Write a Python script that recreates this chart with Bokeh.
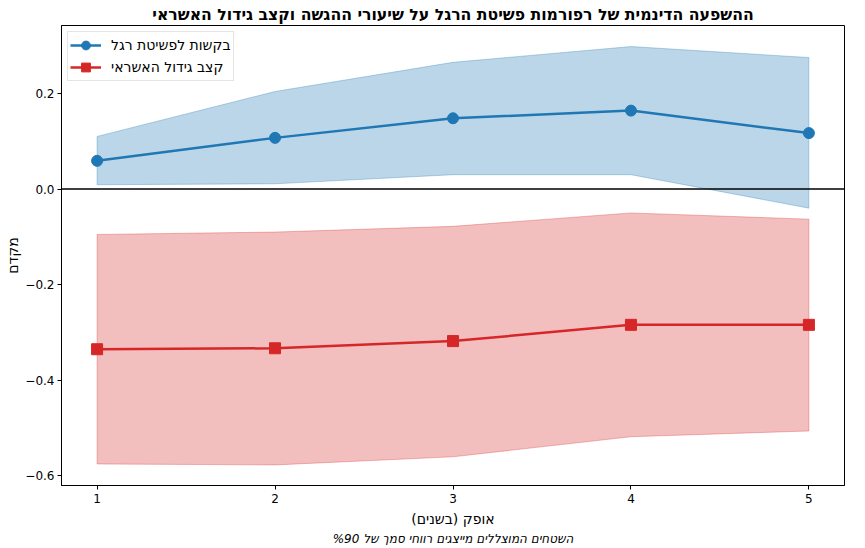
import numpy as np
from bokeh.plotting import figure
from bokeh.models import Range1d, FixedTicker, Span, Title
from bokeh.embed import file_html
from bokeh.resources import INLINE

# ---------------- data ----------------
horizons = [1, 2, 3, 4, 5]

bankruptcy_coef = [0.059, 0.107, 0.148, 0.164, 0.117]
bankruptcy_lo = [0.009, 0.011, 0.030, 0.030, -0.040]
bankruptcy_hi = [0.110, 0.204, 0.265, 0.298, 0.275]

credit_coef = [-0.335, -0.333, -0.318, -0.284, -0.284]
credit_lo = [-0.575, -0.577, -0.560, -0.518, -0.506]
credit_hi = [-0.095, -0.090, -0.078, -0.050, -0.063]

y_ticks = [-0.6, -0.4, -0.2, 0.0, 0.2]
y_tick_labels = ["\u22120.6", "\u22120.4", "\u22120.2", "0.0", "0.2"]
x_ticks = [1, 2, 3, 4, 5]

title_text = "ההשפעה הדינמית של רפורמות פשיטת הרגל על שיעורי ההגשה וקצב גידול האשראי"
label_bankruptcy = "בקשות לפשיטת רגל"
label_credit = "קצב גידול האשראי"
x_label = "אופק (בשנים)"
y_label = "מקדם"
footnote = "השטחים המוצללים מייצגים רווחי סמך של %90"

BLUE = "#1f77b4"
RED = "#d62728"
FONT = "DejaVu Sans"
RLM = "\u200f"


def rtl(s):
    return RLM + s + RLM


p = figure(width=865, height=548, output_backend="svg", toolbar_location=None,
           x_range=Range1d(0.8, 5.2), y_range=Range1d(-0.62, 0.342),
           min_border_left=61, min_border_right=21, min_border_top=24,
           min_border_bottom=63)

p.title.text = rtl(title_text)
p.title.align = "center"
p.title.text_font = FONT
p.title.text_font_size = "15.7px"
p.title.text_font_style = "bold"
p.title.text_color = "black"
p.title.standoff = 4

# bands
bx = horizons + horizons[::-1]
p.patch(bx, bankruptcy_hi + bankruptcy_lo[::-1], fill_color=BLUE, fill_alpha=0.3,
        line_color=BLUE, line_alpha=0.3, line_width=1)
p.line(horizons, bankruptcy_coef, line_color=BLUE, line_width=2.5,
       legend_label=rtl(label_bankruptcy))
p.scatter(horizons, bankruptcy_coef, marker="circle", size=11, fill_color=BLUE,
          line_color=BLUE, legend_label=rtl(label_bankruptcy))

p.patch(bx, credit_hi + credit_lo[::-1], fill_color=RED, fill_alpha=0.3,
        line_color=RED, line_alpha=0.3, line_width=1)
p.line(horizons, credit_coef, line_color=RED, line_width=2.5,
       legend_label=rtl(label_credit))
p.scatter(horizons, credit_coef, marker="square", size=11, fill_color=RED,
          line_color=RED, legend_label=rtl(label_credit))

p.add_layout(Span(location=0, dimension="width", line_color="black", line_width=1.5))

# axes
p.grid.visible = False
p.outline_line_color = "black"
p.outline_line_width = 1
for ax in (p.xaxis[0], p.yaxis[0]):
    ax.axis_line_color = "black"
    ax.major_tick_line_color = "black"
    ax.minor_tick_line_color = None
    ax.major_tick_out = 4
    ax.major_tick_in = 0
    ax.major_label_text_font = FONT
    ax.major_label_text_font_size = "12px"
    ax.major_label_text_color = "black"
    ax.axis_label_text_font = FONT
    ax.axis_label_text_font_size = "14px"
    ax.axis_label_text_font_style = "normal"
    ax.axis_label_text_color = "black"

p.xaxis[0].ticker = FixedTicker(ticks=x_ticks)
p.xaxis[0].axis_label = rtl(x_label)
p.xaxis[0].major_label_standoff = 4
p.xaxis[0].axis_label_standoff = 5

p.yaxis[0].ticker = FixedTicker(ticks=y_ticks)
p.yaxis[0].major_label_overrides = {t: l for t, l in zip(y_ticks, y_tick_labels)}
p.yaxis[0].axis_label = rtl(y_label)
p.yaxis[0].major_label_standoff = 3
p.yaxis[0].axis_label_standoff = 1

# legend
lg = p.legend[0]
lg.location = "top_left"
lg.margin = 6
lg.padding = 2
lg.spacing = 0
lg.glyph_width = 31
lg.glyph_height = 22
lg.label_height = 17
lg.label_standoff = 10
lg.label_text_font = FONT
lg.label_text_font_size = "14px"
lg.label_text_color = "black"
lg.border_line_color = "#cccccc"
lg.border_line_width = 1
lg.background_fill_alpha = 0.8

# footnote
fn = Title(text=rtl(footnote), align="center", text_font=FONT, text_font_size="12px",
           text_font_style="italic", text_color="black", standoff=0)
p.add_layout(fn, "below")

open("out.html", "w").write(file_html(p, INLINE))
